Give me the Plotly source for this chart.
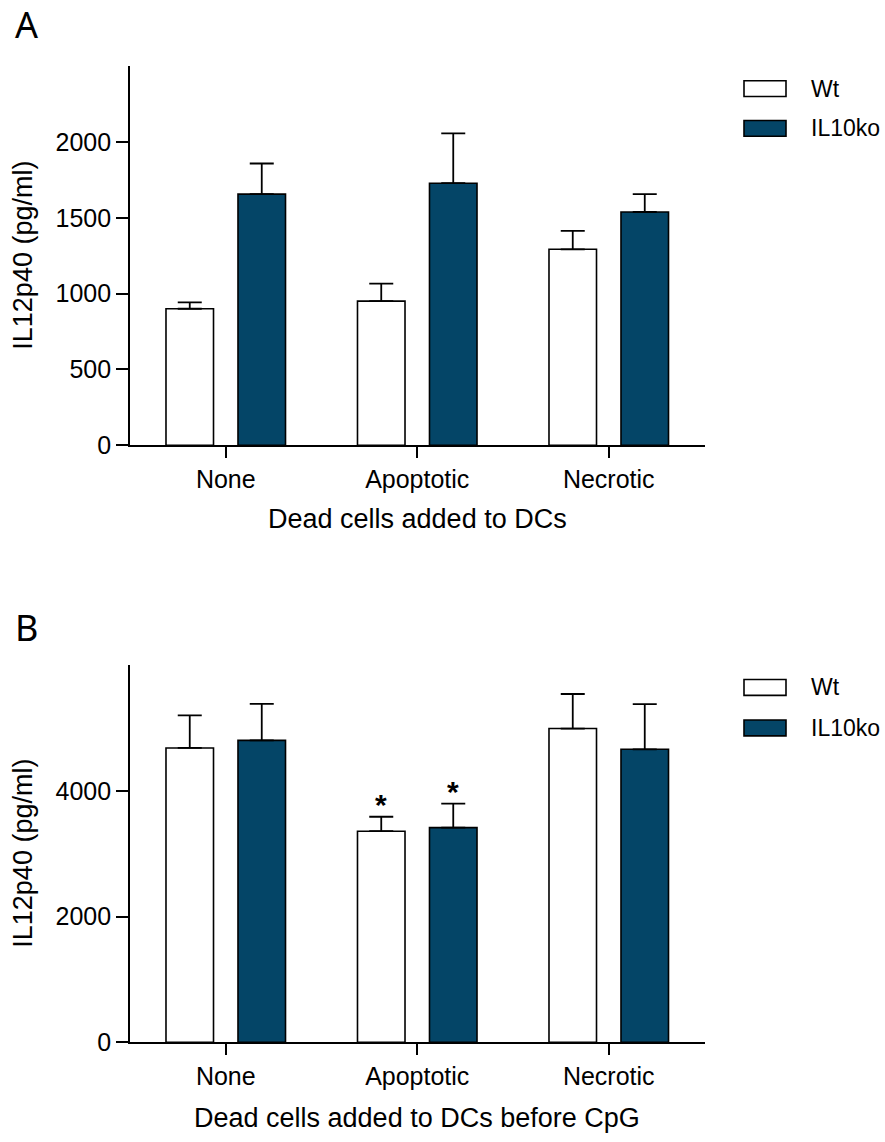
import plotly.graph_objects as go

# ---- data -------------------------------------------------------------
categories = ["None", "Apoptotic", "Necrotic"]
series_names = ["Wt", "IL10ko"]

# Panel A: dead cells added to DCs
a_wt = [900, 950, 1292]
a_wt_err = [42, 115, 122]
a_ko = [1656, 1728, 1538]
a_ko_err = [202, 329, 118]

# Panel B: dead cells added to DCs before CpG
b_wt = [4682, 3358, 4990]
b_wt_err = [517, 230, 550]
b_ko = [4802, 3415, 4660]
b_ko_err = [580, 382, 720]

a_yticks = [0, 500, 1000, 1500, 2000]
b_yticks = [0, 2000, 4000]
significant = ["Apoptotic"]

# ---- page geometry (pixels) ------------------------------------------
W, H = 885, 1142
FONT = "Liberation Sans, Arial, sans-serif"
KO_COLOR = "#044567"


def px(x):
    return x / W


def py(y):
    return 1 - y / H


fig = go.Figure()


def add_panel(xa, ya, wt, wt_err, ko, ko_err):
    for vals, errs, fill, name in ((wt, wt_err, "white", series_names[0]),
                                   (ko, ko_err, KO_COLOR, series_names[1])):
        fig.add_trace(go.Bar(
            x=categories, y=vals, name=name, showlegend=False,
            xaxis=xa, yaxis=ya,
            marker=dict(color=fill, line=dict(color="black", width=1.6)),
            error_y=dict(type="data", array=errs, arrayminus=[0] * len(errs),
                         symmetric=False, color="black", thickness=1.8, width=12),
        ))


add_panel("x", "y", a_wt, a_wt_err, a_ko, a_ko_err)
add_panel("x2", "y2", b_wt, b_wt_err, b_ko, b_ko_err)

axis_common = dict(showline=True, linecolor="black", linewidth=1.6,
                   ticks="outside", ticklen=12, tickwidth=1.6, tickcolor="black",
                   showgrid=False, zeroline=False,
                   tickfont=dict(family=FONT, size=25, color="black"))
x_axis_style = {k: v for k, v in axis_common.items() if k != "ticklen"}

x_dom = [px(130), px(704.5)]
a_top, a_bot = 67, 450.7
b_top, b_bot = 673.3, 1055.3

fig.update_layout(
    width=W, height=H,
    margin=dict(l=0, r=0, t=0, b=0),
    paper_bgcolor="white", plot_bgcolor="white",
    barmode="group", bargap=0.248, bargroupgap=0.34,
    font=dict(family=FONT, color="black"),
    xaxis=dict(domain=x_dom, anchor="y", type="category", range=[-0.5, 2.5],
               ticklen=11, **x_axis_style),
    yaxis=dict(domain=[py(a_bot), py(a_top)], anchor="x", range=[0, 2500],
               tickvals=a_yticks, **axis_common),
    xaxis2=dict(domain=x_dom, anchor="y2", type="category", range=[-0.5, 2.5],
                ticklen=11, **x_axis_style),
    yaxis2=dict(domain=[py(b_bot), py(b_top)], anchor="x2", range=[0, 6000],
                tickvals=b_yticks, **axis_common),
)

annotations = []
title_font = dict(family=FONT, size=27, color="black")

# axis titles
annotations += [
    dict(text="IL12p40 (pg/ml)", xref="paper", yref="paper", x=px(23),
         y=py((a_top + a_bot) / 2), textangle=-90, showarrow=False,
         xanchor="center", yanchor="middle", font=title_font),
    dict(text="IL12p40 (pg/ml)", xref="paper", yref="paper", x=px(23),
         y=py((b_top + b_bot) / 2), textangle=-90, showarrow=False,
         xanchor="center", yanchor="middle", font=title_font),
    dict(text="Dead cells added to DCs", xref="paper", yref="paper",
         x=px(417), y=py(525), showarrow=False, xanchor="center",
         yanchor="middle", font=title_font),
    dict(text="Dead cells added to DCs before CpG", xref="paper", yref="paper",
         x=px(417), y=py(1132), showarrow=False, xanchor="center",
         yanchor="middle", font=title_font),
]

# panel letters
for letter, yc in (("A", 25), ("B", 635)):
    annotations.append(dict(text=letter, xref="paper", yref="paper", x=px(26),
                            y=py(yc), showarrow=False, xanchor="center",
                            yanchor="middle",
                            font=dict(family="Noto Sans, sans-serif", size=36,
                                      color="black")))

# significance marks above the error caps
for cat in significant:
    i = categories.index(cat)
    for vals, errs, shift in ((b_wt, b_wt_err, -36), (b_ko, b_ko_err, 36)):
        annotations.append(dict(text="<b>*</b>", xref="x2", yref="y2", x=cat,
                                y=vals[i] + errs[i], xshift=shift, yshift=12,
                                showarrow=False, xanchor="center",
                                yanchor="middle",
                                font=dict(family=FONT, size=30, color="black")))

# legends drawn as boxes with labels
shapes = []
for (wt_c, ko_c) in ((89.7, 130), (696, 737)):
    for yc, fill, name in ((wt_c, "white", series_names[0]),
                           (ko_c, KO_COLOR, series_names[1])):
        shapes.append(dict(type="rect", xref="paper", yref="paper",
                           x0=px(744), x1=px(786), y0=py(yc + 8), y1=py(yc - 8),
                           fillcolor=fill, line=dict(color="black", width=1.6)))
        annotations.append(dict(text=name, xref="paper", yref="paper",
                                x=px(809), y=py(yc), showarrow=False,
                                xanchor="left", yanchor="middle",
                                font=dict(family=FONT, size=23, color="black")))

fig.update_layout(annotations=annotations, shapes=shapes)

fig.write_html("out.html")
